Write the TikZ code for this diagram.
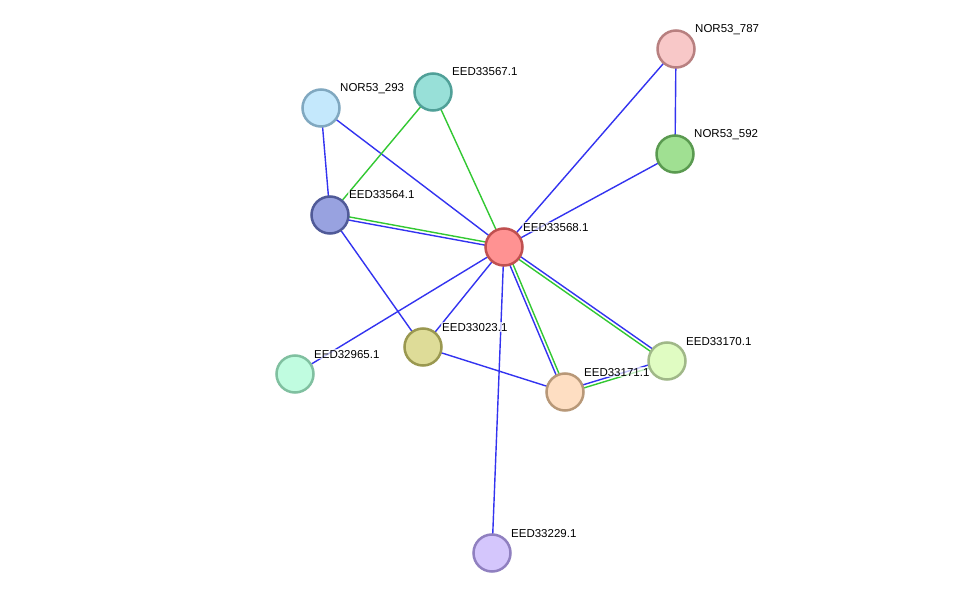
\documentclass[tikz,border=0pt]{standalone}
\usepackage{fontspec}
\setmainfont{Liberation Sans}
\usetikzlibrary{calc,backgrounds}

\definecolor{linkblue}{RGB}{51,51,240}
\definecolor{linkgreen}{RGB}{50,200,50}

\tikzset{
  prot/.style={circle, draw=r#1, fill=c#1, line width=2.5pt, minimum size=37pt, inner sep=0pt},
  lbl/.style={anchor=base west, inner sep=1pt, fill=white, fill opacity=0.7, text opacity=1,
    font=\fontsize{11.5}{12}\selectfont},
  bl/.style={draw=linkblue, line width=1.4pt},
  gr/.style={draw=linkgreen, line width=1.4pt}
}

% protein node with its name up to the right
\newcommand{\prot}[6]{%
  \definecolor{c#1}{HTML}{#4}\definecolor{r#1}{HTML}{#5}
  \node[prot=#1] (#1) at (#2,#3) {};
  \node[lbl] (#1-l) at ([shift={(18,-16)}]#1.center) {#6};}

% two links side by side, green and blue
\newcommand{\gblink}[2]{%
  \draw[gr] ($(#1)!1.6pt!90:(#2)$) -- ($(#2)!1.6pt!-90:(#1)$);
  \draw[bl] ($(#1)!1.6pt!-90:(#2)$) -- ($(#2)!1.6pt!90:(#1)$);}

\begin{document}
\begin{tikzpicture}[x=1pt, y=-1pt]
\useasboundingbox (0,0) rectangle (975,599);

\prot{n568}{504}{247}{FF9292}{C05050}{EED33568.1}
\prot{n787}{676}{49}{F8C8C8}{B88080}{NOR53\_787}
\prot{n592}{675}{154}{A0E092}{5A9A50}{NOR53\_592}
\prot{n567}{433}{92}{98E0D8}{50A098}{EED33567.1}
\prot{n293}{321}{108}{C4E8FC}{80A8C0}{NOR53\_293}
\prot{n564}{330}{215}{98A2E0}{505A98}{EED33564.1}
\prot{n023}{423}{347}{DEDC98}{9A9850}{EED33023.1}
\prot{n965}{295}{374}{C0FCE0}{80C0A0}{EED32965.1}
\prot{n171}{565}{392}{FEDEC2}{B89878}{EED33171.1}
\prot{n170}{667}{361}{E0FCC2}{A0B888}{EED33170.1}
\prot{n229}{492}{553}{D4C6FC}{9080C0}{EED33229.1}

\begin{scope}[on background layer]
  \fill[white] (0,0) rectangle (975,599);
  \foreach \a/\b in {n568/n787, n568/n592, n568/n293, n568/n023, n568/n965, n568/n229,
                     n787/n592, n293/n564, n564/n023, n023/n171}
    \draw[bl] (\a.center) -- (\b.center);
  \foreach \a/\b in {n568/n567, n567/n564}
    \draw[gr] (\a.center) -- (\b.center);
  \gblink{n564}{n568}
  \gblink{n568}{n171}
  \gblink{n170}{n568}
  \gblink{n170}{n171}
\end{scope}
\end{tikzpicture}
\end{document}
